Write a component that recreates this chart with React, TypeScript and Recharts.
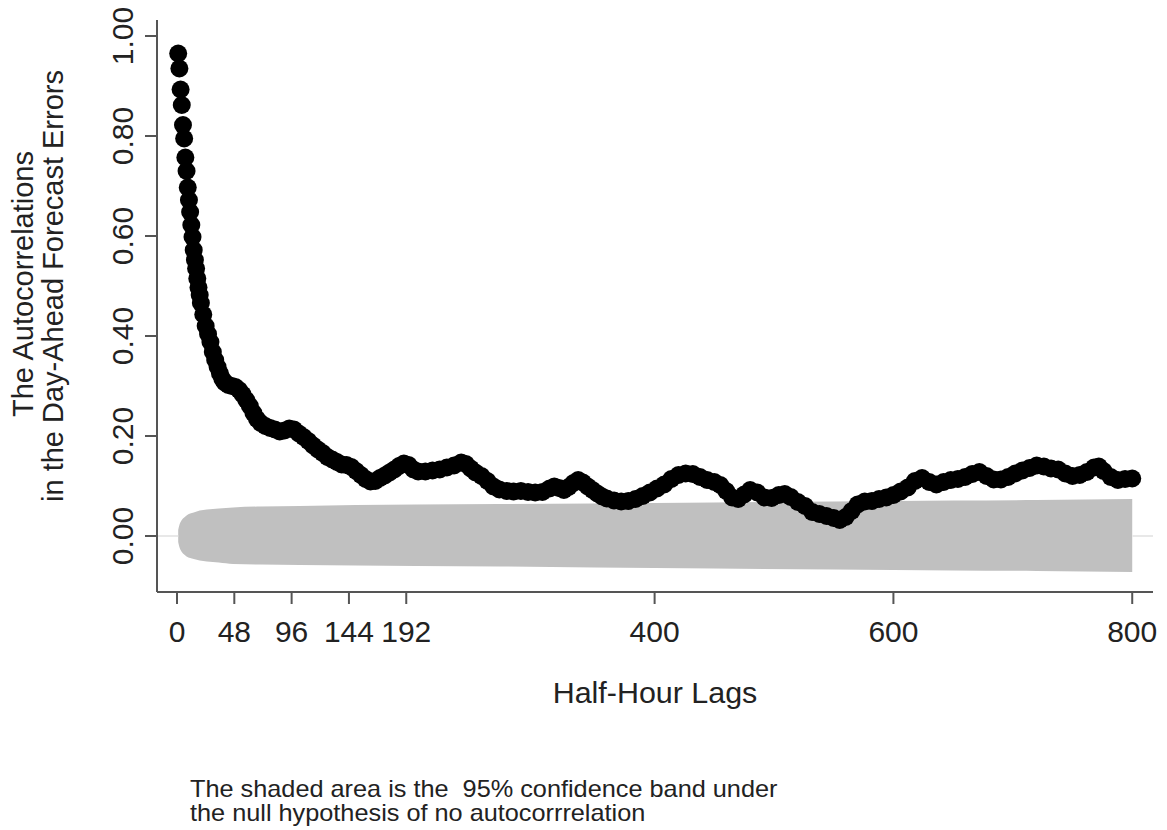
import React from 'react'
import { ComposedChart, XAxis, YAxis, Scatter, Area, ReferenceLine } from 'recharts'

const FONT = '"Liberation Sans", Arial, Helvetica, sans-serif'

// autocorrelation at each half-hour lag
const lags = [
  1, 2, 3, 4, 5, 6, 7, 8, 9, 10, 11, 12, 13, 14, 15, 16, 17, 18, 19, 20,
  22, 24, 26, 28, 30, 32, 34, 36, 38, 40, 43, 46, 49, 52, 55, 58, 61, 64, 67, 70,
  74, 78, 82, 86, 90, 94, 98, 102, 106, 110, 114, 118, 122, 126, 130, 134, 138, 142, 146, 150,
  154, 158, 162, 166, 170, 174, 178, 182, 186, 190, 194, 198, 202, 208, 214, 220, 226, 232, 238, 242,
  246, 250, 255, 260, 265, 270, 276, 282, 288, 294, 300, 306, 312, 316, 320, 324, 328, 332, 336, 340,
  344, 348, 352, 356, 360, 366, 372, 378, 384, 390, 396, 402, 408, 414, 420, 426, 432, 438, 444, 450,
  455, 460, 465, 470, 475, 480, 486, 492, 498, 504, 509, 514, 520, 526, 532, 538, 544, 550, 555, 560,
  565, 570, 576, 582, 588, 594, 600, 606, 612, 618, 624, 630, 636, 642, 648, 654, 660, 666, 672, 678,
  684, 690, 696, 702, 708, 714, 720, 726, 732, 738, 744, 750, 756, 762, 768, 772, 776, 782, 788, 794,
  800,
]
const acf = [
  0.965, 0.935, 0.893, 0.862, 0.822, 0.795, 0.757, 0.73, 0.697, 0.672, 0.648, 0.622, 0.598, 0.572, 0.552, 0.535, 0.515, 0.497, 0.482, 0.466,
  0.443, 0.42, 0.404, 0.388, 0.368, 0.352, 0.338, 0.325, 0.314, 0.307, 0.302, 0.3, 0.298, 0.292, 0.283, 0.272, 0.26, 0.246, 0.234, 0.226,
  0.22, 0.216, 0.213, 0.209, 0.211, 0.215, 0.213, 0.205, 0.198, 0.19, 0.181, 0.173, 0.166, 0.158, 0.153, 0.148, 0.143, 0.142, 0.138, 0.13,
  0.122, 0.114, 0.109, 0.11, 0.116, 0.121, 0.127, 0.133, 0.14, 0.145, 0.142, 0.133, 0.129, 0.129, 0.131, 0.133, 0.137, 0.141, 0.147, 0.144,
  0.135, 0.127, 0.12, 0.11, 0.099, 0.093, 0.09, 0.089, 0.09, 0.088, 0.087, 0.088, 0.095, 0.099, 0.096, 0.092, 0.098, 0.106, 0.112, 0.107,
  0.099, 0.092, 0.085, 0.079, 0.075, 0.071, 0.069, 0.07, 0.074, 0.08, 0.087, 0.095, 0.103, 0.114, 0.122, 0.125, 0.124, 0.118, 0.112, 0.108,
  0.102, 0.09, 0.077, 0.074, 0.083, 0.092, 0.087, 0.077, 0.076, 0.082, 0.084, 0.078, 0.068, 0.06, 0.048, 0.044, 0.04, 0.036, 0.032, 0.038,
  0.05, 0.063, 0.069, 0.07, 0.074, 0.077, 0.082, 0.089, 0.097, 0.11, 0.116, 0.108, 0.103, 0.108, 0.112, 0.114, 0.118, 0.124, 0.128, 0.12,
  0.113, 0.113, 0.118, 0.125, 0.131, 0.136, 0.141, 0.139, 0.135, 0.133, 0.125, 0.12, 0.122, 0.128, 0.137, 0.139, 0.13, 0.118, 0.112, 0.114,
  0.115,
]

// 95% confidence band under the null
const bandLags = [1, 2, 3, 4, 6, 8, 11, 14, 19, 25, 35, 47, 70, 103, 150, 200, 270, 350, 450, 550, 650, 720, 800]
const bandUpper = [0.012, 0.022, 0.028, 0.032, 0.037, 0.041, 0.045, 0.047, 0.051, 0.053, 0.055, 0.057, 0.059, 0.06, 0.062, 0.063, 0.064, 0.065, 0.067, 0.069, 0.071, 0.072, 0.074]
const bandLower = [-0.012, -0.022, -0.028, -0.032, -0.037, -0.041, -0.044, -0.046, -0.049, -0.051, -0.053, -0.056, -0.057, -0.058, -0.059, -0.06, -0.061, -0.063, -0.065, -0.067, -0.069, -0.07, -0.072]

const xTicks = [0, 48, 96, 144, 192, 400, 600, 800]
const yTicks = [0, 0.2, 0.4, 0.6, 0.8, 1.0]

const points = lags.map((lag, i) => ({ lag, acf: acf[i] }))
const band = bandLags.map((lag, i) => ({ lag, band: [bandLower[i], bandUpper[i]] }))

const X_MIN = -16.75
const X_MAX = 817.4

const AXIS = '#555'
const TEXT = '#222'

const YTick = (props: any) => {
  const { x, y, payload } = props
  return (
    <text x={x} y={y} transform={`rotate(-90 ${x} ${y})`} textAnchor='middle' fontSize={30} fill={TEXT} fontFamily={FONT}>
      {Number(payload.value).toFixed(2)}
    </text>
  )
}

const Dot = (props: any) => <circle cx={props.cx} cy={props.cy} r={9} fill='#000' />

const YTitle = () => (
  <g fontFamily={FONT} fontSize={29} fill={TEXT} textAnchor='middle'>
    <text x={33} y={284} transform='rotate(-90 33 284)'>The Autocorrelations</text>
    <text x={63} y={286} transform='rotate(-90 63 286)'>in the Day-Ahead Forecast Errors</text>
  </g>
)

const XTitle = () => (
  <g fontFamily={FONT} fill={TEXT}>
    <g transform='translate(655 0) scale(1.05 1)'>
      <text x={0} y={703} fontSize={29} textAnchor='middle'>Half-Hour Lags</text>
    </g>
    <g transform='translate(190 0) scale(1.1 1)'>
      <text x={0} y={797} fontSize={23} style={{ whiteSpace: 'pre' }}>
        The shaded area is the  95% confidence band under
      </text>
      <text x={0} y={821} fontSize={23}>the null hypothesis of no autocorrrelation</text>
    </g>
  </g>
)

export default function App() {
  return (
    <div style={{ position: 'absolute', left: 0, top: 0, background: '#fff' }}>
      <ComposedChart width={1167} height={830} data={band} margin={{ top: 20, right: 14, bottom: 198, left: 0 }}>
        <XAxis
          type='number'
          dataKey='lag'
          domain={[X_MIN, X_MAX]}
          allowDataOverflow
          ticks={xTicks}
          interval={0}
          height={40}
          tickSize={12}
          tickMargin={17}
          stroke={AXIS}
          strokeWidth={2}
          tick={{ fontSize: 30, fill: TEXT, fontFamily: FONT }}
          label={{ content: () => <XTitle /> }}
        />
        <YAxis
          type='number'
          domain={[-0.112, 1.032]}
          allowDataOverflow
          ticks={yTicks}
          interval={0}
          width={157}
          tickSize={12}
          tickMargin={12}
          stroke={AXIS}
          strokeWidth={2}
          tick={<YTick />}
          label={{ content: () => <YTitle /> }}
        />
        {/* faint zero line, visible only outside the band */}
        <ReferenceLine segment={[{ x: X_MIN, y: 0 }, { x: 1, y: 0 }]} stroke='#e8e8e8' strokeWidth={2} />
        <ReferenceLine segment={[{ x: 800, y: 0 }, { x: X_MAX, y: 0 }]} stroke='#e8e8e8' strokeWidth={2} />
        <Area
          dataKey='band'
          type='monotone'
          stroke='none'
          fill='#c0c0c0'
          fillOpacity={1}
          isAnimationActive={false}
        />
        <Scatter data={points} dataKey='acf' shape={<Dot />} isAnimationActive={false} />
      </ComposedChart>
    </div>
  )
}
